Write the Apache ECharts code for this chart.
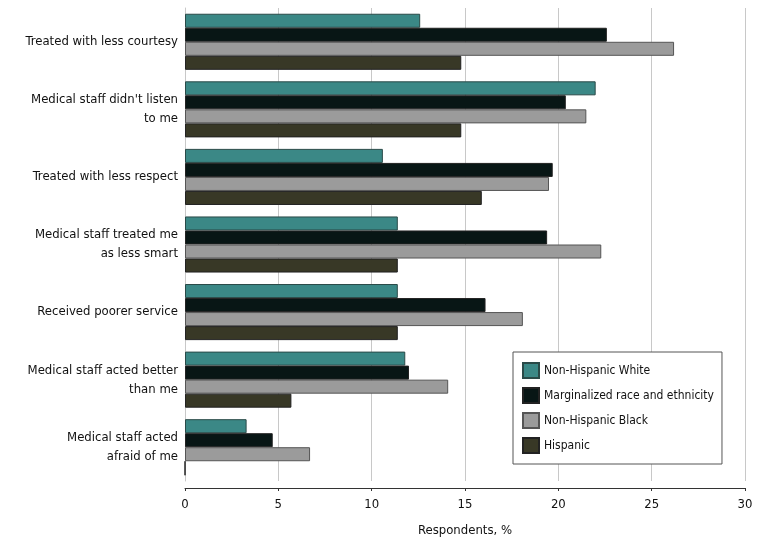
<!DOCTYPE html>
<html><head><meta charset="utf-8">
<script src="https://cdn.jsdelivr.net/npm/echarts@6/dist/echarts.min.js"></script>
<style>html,body{margin:0;padding:0;background:#fff}#c{width:780px;height:539px}</style>
</head><body><div id="c"></div>
<script>
const categories = ["Treated with less courtesy","Medical staff didn't listen\nto me","Treated with less respect","Medical staff treated me\nas less smart","Received poorer service","Medical staff acted better\nthan me","Medical staff acted\nafraid of me"];
const seriesNames = ["Non-Hispanic White","Marginalized race and ethnicity","Non-Hispanic Black","Hispanic"];
const nonHispanicWhite = [12.6, 22.0, 10.6, 11.4, 11.4, 11.8, 3.3];
const marginalized = [22.6, 20.4, 19.7, 19.4, 16.1, 12.0, 4.7];
const nonHispanicBlack = [26.2, 21.5, 19.5, 22.3, 18.1, 14.1, 6.7];
const hispanic = [14.8, 14.8, 15.9, 11.4, 11.4, 5.7, 0];
const xTicks = [0, 5, 10, 15, 20, 25, 30];

const FONT = "'DejaVu Sans Condensed', 'DejaVu Sans', sans-serif";
const colors = ["#3b8886", "#081615", "#9b9b9b", "#383826"];
const borders = ["#2a4a48", "#222", "#555", "#222"];
const data = [nonHispanicWhite, marginalized, nonHispanicBlack, hispanic];

const chart = echarts.init(document.getElementById('c'), null, {renderer:'canvas'});
chart.setOption({
  animation: false,
  textStyle: {fontFamily: FONT},
  grid: {left: 185, right: 35, top: 8, height: 473, containLabel: false, outerBoundsMode: 'none'},
  legend: {
    orient: 'vertical', left: 513, top: 352,
    backgroundColor: '#fff', borderColor: '#555', borderWidth: 1,
    padding: [10, 8, 10, 9], icon: 'rect',
    itemWidth: 16, itemHeight: 15, itemGap: 8,
    textStyle: {fontFamily: FONT, fontSize: 12, color: '#111', width: 171},
    data: seriesNames
  },
  xAxis: {
    type: 'value', min: 0, max: 30, interval: 5, offset: 7,
    name: 'Respondents, %', nameLocation: 'middle', nameGap: 36,
    nameTextStyle: {fontFamily: FONT, fontSize: 13, color: '#111'},
    axisLine: {show: true, lineStyle: {color: '#333', width: 1}},
    axisTick: {show: true, length: 3, lineStyle: {color: '#333'}},
    axisLabel: {fontFamily: FONT, fontSize: 13, color: '#111', margin: 10,
      formatter: v => xTicks.includes(v) ? String(v) : ''},
    splitLine: {show: true, lineStyle: {color: '#c8c8c8', width: 1}}
  },
  yAxis: {
    type: 'category', data: categories, inverse: true,
    axisLine: {show: true, lineStyle: {color: '#c8c8c8', width: 1}},
    axisTick: {show: false},
    axisLabel: {fontFamily: FONT, fontSize: 13, color: '#111', margin: 7, lineHeight: 19, align: 'right'}
  },
  series: seriesNames.map((n, i) => ({
    name: n, type: 'bar', data: data[i],
    barGap: '0%', barCategoryGap: '17%',
    itemStyle: {color: colors[i], borderColor: borders[i], borderWidth: 1}
  }))
});
</script></body></html>
